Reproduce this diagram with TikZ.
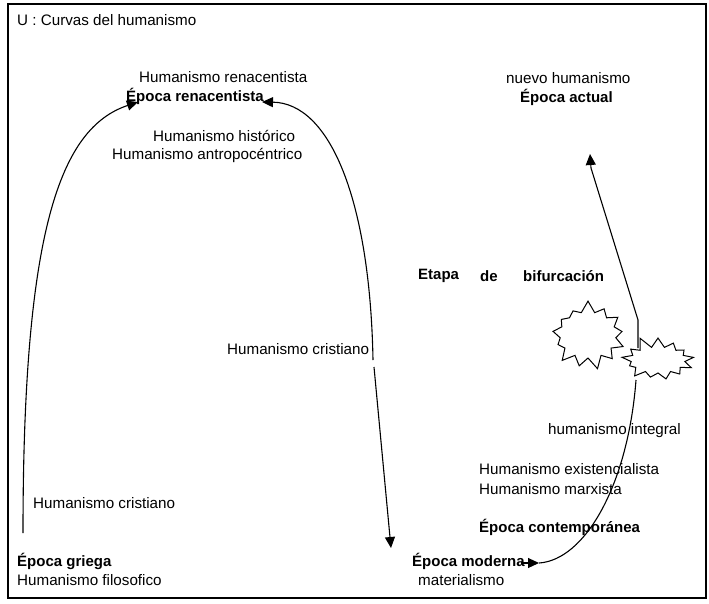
\documentclass[tikz,border=0pt]{standalone}
\usepackage{fontspec}
\setmainfont{Liberation Sans}
\usetikzlibrary{arrows.meta,shapes.symbols}
\begin{document}
\begin{tikzpicture}[x=1pt,y=-1pt,
  lbl/.style={anchor=west,inner sep=0pt,font=\fontsize{15.2}{18}\selectfont},
  blbl/.style={anchor=west,inner sep=0pt,font=\fontsize{15}{18}\selectfont\bfseries},
  curve/.style={line width=1.1pt},
  tipend/.style={-{Triangle[length=11pt,width=10pt]}},
  burst/.style={starburst,draw,fill=white,line width=1pt,inner sep=0pt,starburst points=13,starburst point height=12pt}]
\useasboundingbox (0,0) rectangle (709,603);
\draw[line width=1.4pt] (8,4) rectangle (706,598);

% texts
\node[lbl] (title) at (17,20) {U : Curvas del humanismo};
\node[lbl] (hren) at (139,77) {Humanismo renacentista};
\node[blbl] (eren) at (126,96) {Época renacentista};
\node[lbl] (hhis) at (153,136) {Humanismo histórico};
\node[lbl] (hant) at (112,155) {Humanismo antropocéntrico};
\node[lbl] (nuevo) at (506,78) {nuevo humanismo};
\node[blbl] (eact) at (520,97) {Época actual};
\node[blbl] (etapa) at (418,276) {Etapa};
\node[blbl] (de) at (480,276) {de};
\node[blbl] (bif) at (523,276) {bifurcación};
\node[lbl] (hcm) at (227,349) {Humanismo cristiano};
\node[lbl] (hint) at (548,431) {humanismo integral};
\node[lbl] (hexi) at (479,469) {Humanismo existencialista};
\node[lbl] (hmar) at (479,489) {Humanismo marxista};
\node[blbl] (econ) at (479,527) {Época contemporánea};
\node[lbl] (hcl) at (33,503) {Humanismo cristiano};
\node[blbl] (egri) at (17,561) {Época griega};
\node[lbl] (hfil) at (17,580) {Humanismo filosofico};
\node[blbl] (emod) at (412,561) {Época moderna};
\node[lbl] (mat) at (418,580) {materialismo};

% connector end points
\coordinate (g0) at (23,533);
\coordinate (r1) at (138,102);
\coordinate (r2) at (262,102);
\coordinate (m1) at (373,360);
\coordinate (m2) at (374,367);
\coordinate (m3) at (391,548);
\coordinate (e1) at (521,563);
\coordinate (e2) at (539,563);
\coordinate (c1) at (636,380);
\coordinate (c2) at (638,348);
\coordinate (c3) at (638,320);
\coordinate (c4) at (591,168);
\coordinate (a1) at (590,154);

% curves
\draw[curve,tipend] (g0) .. controls (23,230) and (60,128) .. (r1);
\draw[curve,tipend] (m1) .. controls (370,200) and (330,103) .. (r2);
\draw[curve,tipend] (m2) -- (m3);
\draw[curve,tipend] (e1) -- (e2);
\draw[curve] (e2) .. controls (585,560) and (628,485) .. (c1);
\draw[curve,tipend] (c2) -- (c3) -- (c4) -- (a1);

% starbursts
\node[burst,minimum width=80pt,minimum height=70pt,random starburst=7] (s1) at (588,335) {};
\node[burst,minimum width=78pt,minimum height=50pt,random starburst=11] (s2) at (658,360) {};
\end{tikzpicture}
\end{document}
